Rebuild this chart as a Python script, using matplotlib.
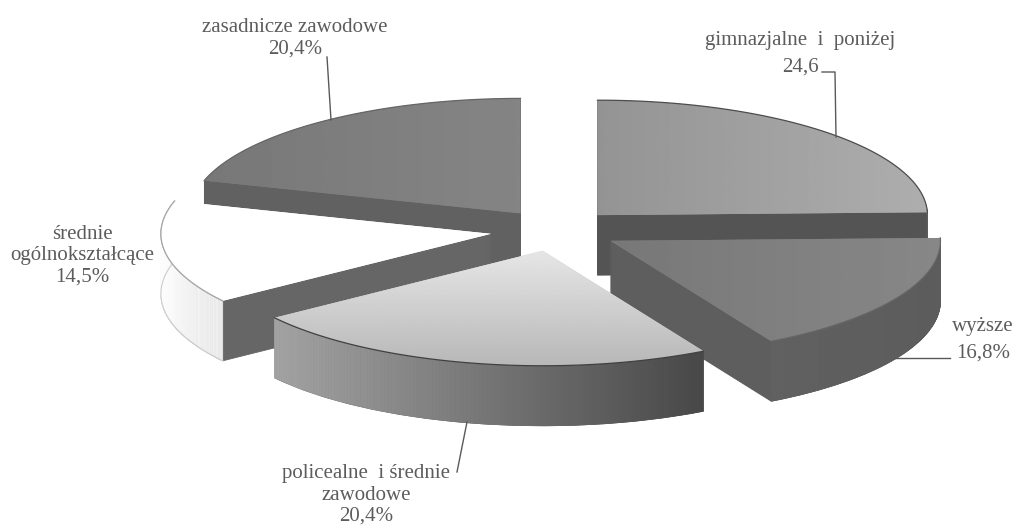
import numpy as np
import matplotlib
matplotlib.use("Agg")
import matplotlib.pyplot as plt

# Wedge sizes as drawn in the picture (sum = 100); the printed labels are in label_lines.
categories = ["gimnazjalne i poniżej", "wyższe", "policealne i średnie zawodowe",
              "średnie ogólnokształcące", "zasadnicze zawodowe"]
slice_values = [24.6, 17.3, 23.2, 14.5, 20.4]
explode = [0.18, 0.19, 0.185, 0.2, 0.18]

W, H = 1016, 529
CX, CY, RX, RY, DEPTH = 556, 230, 330, 115, 60

top_grad = [(0.58, 0.68, "h"), (0.47, 0.53, "h"), (0.90, 0.72, "v"), (1.0, 1.0, "h"), (0.47, 0.52, "h")]
wall_inner = [0.33, 0.37, 0.38, 0.40, 0.38]
wall_outer = [(0.33, 0.36), (0.38, 0.36), (0.64, 0.28), (0.99, 0.93), (0.38, 0.38)]
arc_edge = [0.30, 0.40, 0.25, 0.65, 0.40]
rank = {4: 0, 0: 1, 3: 2, 1: 3, 2: 4}  # back-to-front drawing rank per wedge

fig = plt.figure(figsize=(W / 100, H / 100), dpi=100)
ax = fig.add_axes([0, 0, 1, 1])


def gray(v):
    return (v, v, v)


layers = np.arange(DEPTH, -1, -1)
top_wedges = None
for d in layers:
    wedges, _ = ax.pie(slice_values, explode=explode, startangle=90, counterclock=False,
                       radius=1, center=(0, -d / RY), frame=True, normalize=True,
                       colors=[gray(c) for c in wall_inner],
                       wedgeprops=dict(linewidth=0.6))
    for i, w in enumerate(wedges):
        w.set_edgecolor(gray(wall_inner[i]))
        w.set_zorder(rank[i] * 10 + 1)
    if d == 0:
        top_wedges = wedges

xlim = (-CX / RX, (W - CX) / RX)
ylim = ((CY - H) / RY, CY / RY)

for i, w in enumerate(top_wedges):
    z = rank[i] * 10
    cx0, cy0 = w.center
    t1, t2 = w.theta1, w.theta2
    # outer wall: shaded strips along the visible front arc
    ang = np.linspace(t1, t2, 121)
    a = np.deg2rad(ang)
    xs, ys = cx0 + w.r * np.cos(a), cy0 + w.r * np.sin(a)
    x0, x1 = xs.min(), xs.max()
    for k in range(len(ang) - 1):
        if np.sin(a[k]) > 0.05 and np.sin(a[k + 1]) > 0.05:
            continue
        f = ((xs[k] + xs[k + 1]) / 2 - x0) / (x1 - x0)
        c = wall_outer[i][0] + (wall_outer[i][1] - wall_outer[i][0]) * f
        dd = DEPTH / RY
        ax.fill([xs[k], xs[k + 1], xs[k + 1], xs[k]],
                [ys[k], ys[k + 1], ys[k + 1] - dd, ys[k] - dd],
                color=gray(c), lw=0.5, zorder=z + 2)
    if i == 3:  # thin outline of the white side wall
        front = np.sin(a) < 0.35
        ax.plot(xs[front], ys[front] - DEPTH / RY, color=gray(0.8), lw=0.8, zorder=z + 2.5)
        ax.plot(xs[front], ys[front], color=gray(0.7), lw=0.8, zorder=z + 2.5)
    # top face: gradient clipped to the wedge
    bb = w.get_path().get_extents(w.get_patch_transform())
    g0, g1, direction = top_grad[i]
    ramp = np.linspace(g0, g1, 128)
    img = ramp[None, :] if direction == "h" else ramp[:, None]
    w.set_zorder(z + 3)
    w.set_facecolor(gray((g0 + g1) / 2))
    w.set_edgecolor("none")
    im = ax.imshow(img, cmap="gray", vmin=0, vmax=1, aspect="auto", origin="upper",
                   extent=(bb.x0, bb.x1, bb.y0, bb.y1), zorder=z + 4, interpolation="bilinear")
    im.set_clip_path(w)
    ax.plot(xs, ys, color=gray(arc_edge[i]), lw=0.9, zorder=z + 5)

ax.set_aspect("auto")
ax.set_xlim(*xlim)
ax.set_ylim(*ylim)
ax.axis("off")


def P(px, py):
    return (px - CX) / RX, (CY - py) / RY


# Leader lines (pixel anchors of the annotation layout)
leaders = [
    [(327, 57), (331, 120)],
    [(822, 72), (835, 72), (836, 137)],
    [(895, 358), (950, 358)],
    [(467, 422), (457, 472)],
]
for pts in leaders:
    x, y = zip(*[P(*p) for p in pts])
    ax.plot(x, y, color=gray(0.35), lw=1.0, zorder=100)

label_lines = [
    ("zasadnicze zawodowe\n20,4%", 295, 38),
    ("gimnazjalne  i  poniżej", 800, 41),
    ("24,6", 800, 67),
    ("średnie\nogólnokształcące\n14,5%", 82, 256),
    ("wyższe", 983, 327),
    ("16,8%", 983, 353),
    ("policealne  i średnie\nzawodowe\n20,4%", 366, 495),
]
for txt, px, py in label_lines:
    x, y = P(px, py)
    ax.text(x, y, txt, family="Liberation Serif", fontsize=15, color=gray(0.36),
            ha="center", va="center", linespacing=1.17, zorder=101)

fig.savefig("out.png", dpi=100, facecolor="white")
